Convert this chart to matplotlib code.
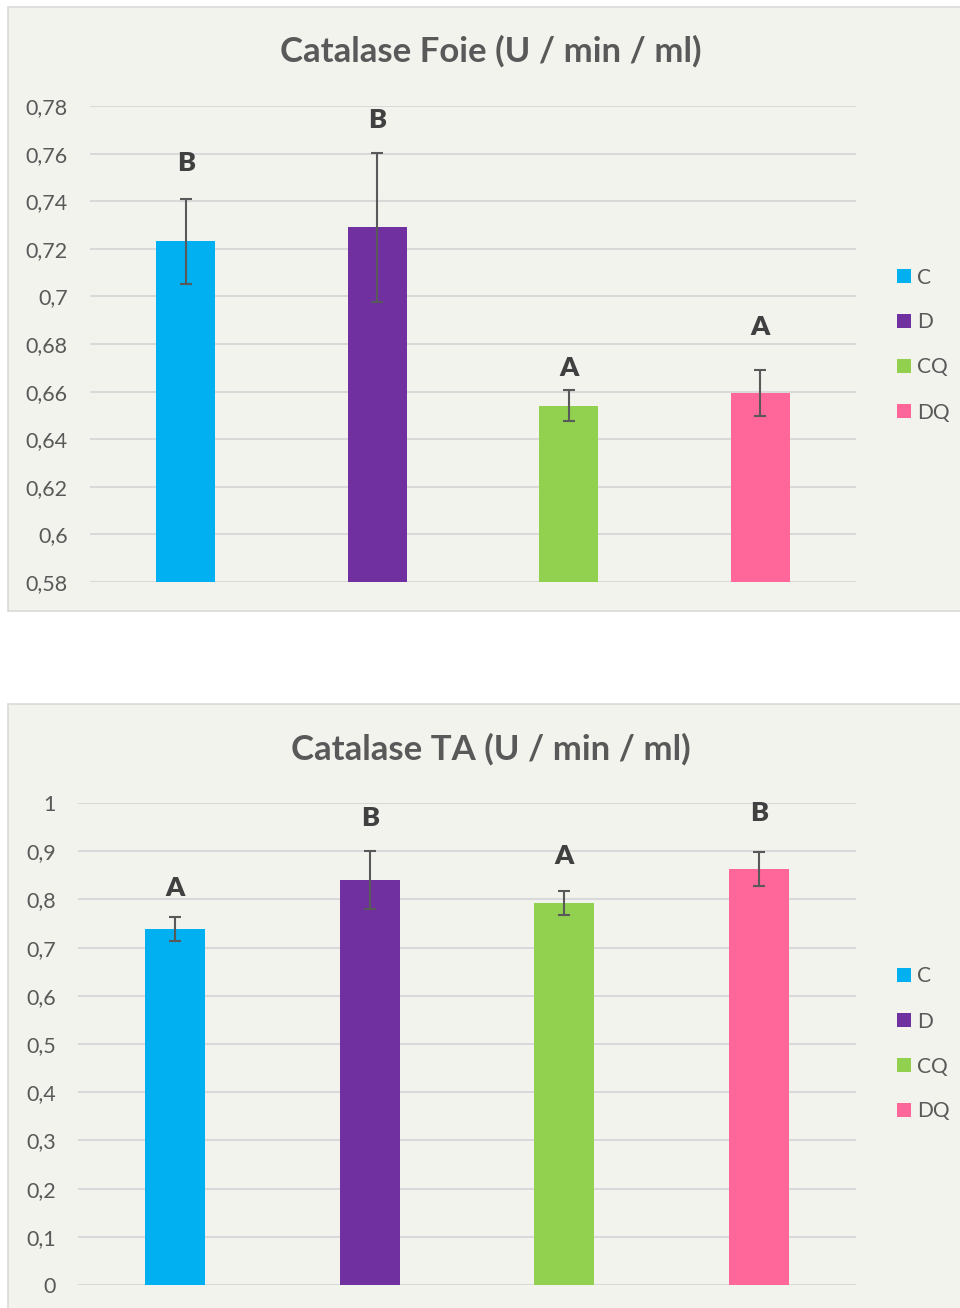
import matplotlib
matplotlib.use("Agg")
import matplotlib.pyplot as plt
from matplotlib.patches import Rectangle, Patch

# ---- data ----
groups = ["C", "D", "CQ", "DQ"]
colors = ["#00B0F0", "#7030A0", "#92D050", "#FF6699"]

foie_mean = [0.7232, 0.7290, 0.6540, 0.6594]
foie_err = [0.0179, 0.0314, 0.0065, 0.0095]
foie_letters = ["B", "B", "A", "A"]
foie_letter_y = [0.7562, 0.7741, 0.6698, 0.6873]
foie_ticks = [0.58, 0.60, 0.62, 0.64, 0.66, 0.68, 0.70, 0.72, 0.74, 0.76, 0.78]

ta_mean = [0.7386, 0.8402, 0.7925, 0.8631]
ta_err = [0.0255, 0.0600, 0.0250, 0.0353]
ta_letters = ["A", "B", "A", "B"]
ta_letter_y = [0.824, 0.968, 0.890, 0.979]
ta_ticks = [0.0, 0.1, 0.2, 0.3, 0.4, 0.5, 0.6, 0.7, 0.8, 0.9, 1.0]

FONT = "Lato"
TXT = "#595959"
GRID = "#D9D9D9"
BG = "#F3F3EE"

W, H = 960, 1308
fig = plt.figure(figsize=(W / 100, H / 100), dpi=100)
fig.patch.set_facecolor("white")


def fx(px):
    return px / W


def fy(py):
    return 1 - py / H


def fmt(v):
    s = ("%.2f" % v).rstrip("0").rstrip(".")
    return s.replace(".", ",")


# chart frames
for top, bottom in [(7, 611), (704, 1320)]:
    fig.patches.append(Rectangle((fx(8), fy(bottom)), fx(970 - 8), (bottom - top) / H,
                                 transform=fig.transFigure, facecolor=BG,
                                 edgecolor=GRID, linewidth=1.2, zorder=-5))


def panel(left, top, bottom, title, title_y, mean, err, letters, letter_y,
          ticks, ylim, legend_y):
    ax = fig.add_axes([fx(left), fy(bottom), fx(856 - left), (bottom - top) / H])
    ax.set_zorder(3)
    ax.set_facecolor("none")
    x = range(len(groups))
    ax.bar(x, mean, width=0.31, color=colors, zorder=2)
    ax.errorbar(x, mean, yerr=err, fmt="none", ecolor="#595959",
                elinewidth=1.5, capsize=4.5, capthick=1.5, zorder=3)
    for xi, lab, ly in zip(x, letters, letter_y):
        ax.text(xi, ly, lab, ha="center", va="center", fontsize=19.5,
                fontweight="heavy", color="#404040", family=FONT)
    ax.set_xlim(-0.5, len(groups) - 0.5)
    ax.set_ylim(*ylim)
    ax.set_yticks(ticks)
    ax.set_yticklabels([fmt(t) for t in ticks], family=FONT, fontsize=15.5, color=TXT)
    ax.set_xticks([])
    ax.tick_params(axis="y", length=0, pad=16)
    ax.yaxis.grid(True, color=GRID, linewidth=1.5, zorder=0)
    ax.set_axisbelow(True)
    for s in ax.spines.values():
        s.set_visible(False)
    fig.text(fx(491), fy(title_y), title, ha="center", va="center",
             fontsize=25, fontweight="bold", color=TXT, family=FONT, zorder=5)
    handles = [Patch(facecolor=c, edgecolor="none", label=g) for g, c in zip(groups, colors)]
    leg = fig.legend(handles=handles, loc="center left",
                     bbox_to_anchor=(fx(897), fy(legend_y)), frameon=False,
                     prop={"family": FONT, "size": 15}, labelcolor=TXT,
                     handlelength=0.66, handleheight=0.66, handletextpad=0.3,
                     labelspacing=1.2, borderpad=0, borderaxespad=0)
    leg.set_zorder(5)
    return ax


panel(90, 106, 582, "Catalase Foie (U / min / ml)", 51, foie_mean, foie_err,
      foie_letters, foie_letter_y, foie_ticks, (0.58, 0.78), 345)
panel(78, 803, 1285, "Catalase TA (U / min / ml)", 749, ta_mean, ta_err,
      ta_letters, ta_letter_y, ta_ticks, (0.0, 1.0), 1044)

fig.savefig("out.png", dpi=100, facecolor=fig.get_facecolor())
